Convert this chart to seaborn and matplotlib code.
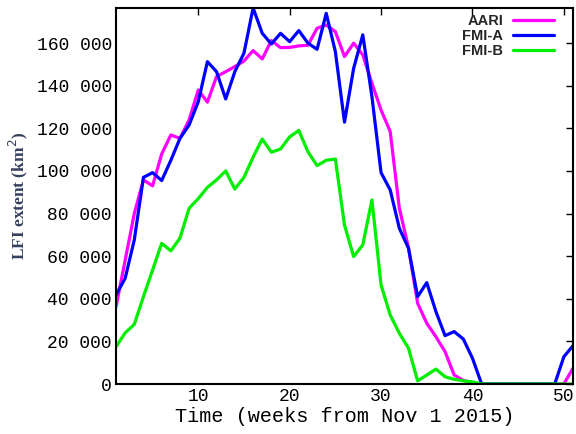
import numpy as np
import pandas as pd
import matplotlib
matplotlib.use("Agg")
import matplotlib.pyplot as plt
import matplotlib.ticker as mticker
import seaborn as sns

weeks = list(range(1, 52))
aari = [36300, 58000, 80000, 95800, 93000, 108000, 116900, 115300, 124000, 138000,
        132300, 144300, 146600, 149000, 151600, 156500, 152600, 161200, 157900, 158000,
        158700, 159000, 167000, 168500, 165400, 153700, 160000, 154500, 141200, 128600,
        118500, 82500, 64000, 37900, 28500, 22200, 15200, 4200, 1700, 500,
        0, 0, 0, 0, 0, 0, 0, 0, 0, 0, 7400]
fmi_a = [41800, 49600, 67600, 97000, 99200, 95500, 105000, 115300, 121600, 132500,
         151300, 146600, 133800, 146600, 155300, 176500, 164600, 159600, 164600, 160700,
         165900, 160000, 157100, 174000, 156000, 122900, 148200, 163900, 134900, 99200,
         91100, 73100, 63700, 41000, 47600, 34000, 22700, 24600, 21100, 12100,
         0, 0, 0, 0, 0, 0, 0, 0, 0, 12800, 18000]
fmi_b = [17500, 24000, 28000, 41000, 53500, 66000, 62500, 68500, 82500, 87000,
         92300, 95800, 100000, 91500, 97000, 106500, 115000, 108800, 110300, 116000,
         119000, 109000, 102500, 105000, 105600, 74600, 59800, 65300, 86400, 46500,
         32400, 23800, 16800, 1500, 4200, 7000, 3400, 2200, 1500, 1000,
         0, 0, 0, 0, 0, 0, 0, 0, 0, 0, 0]
series_names = ["AARI", "FMI-A", "FMI-B"]
colors = ["#ff00ff", "#0000ff", "#00ee00"]
xticks = [10, 20, 30, 40, 50]
yticks = [0, 20000, 40000, 60000, 80000, 100000, 120000, 140000, 160000]

df = pd.DataFrame({
    "week": weeks * 3,
    "value": aari + fmi_a + fmi_b,
    "series": sum([[n] * len(weeks) for n in series_names], []),
})

sns.set_theme(style="white")
plt.rcParams["font.family"] = ["Liberation Mono", "DejaVu Sans Mono"]

fig = plt.figure(figsize=(5.76, 4.34), dpi=100)
ax = fig.add_axes([0.2014, 0.1152, 0.7934, 0.8664])

sns.lineplot(data=df, x="week", y="value", hue="series", hue_order=series_names,
             palette=dict(zip(series_names, colors)), linewidth=2.3, ax=ax,
             legend=True)

ax.set_xlim(1, 51)
ax.set_ylim(0, 176500)
ax.set_xticks(xticks)
ax.set_yticks(yticks)
ax.yaxis.set_major_formatter(mticker.FuncFormatter(lambda v, p: f"{int(v):,}".replace(",", " ")))
ax.tick_params(direction="in", length=5, width=1, top=True, right=True,
               labelsize=13, colors="black", pad=3)
for s in ax.spines.values():
    s.set_visible(True)
    s.set_color("black")
    s.set_linewidth(1.5)

ax.set_xlabel("Time (weeks from Nov 1 2015)", fontsize=14.5, labelpad=1, color="black")
ax.set_ylabel("LFI extent (km$^2$)", fontsize=12.5, fontweight="bold",
              family="Liberation Serif", color="#34405e")
ax.yaxis.set_label_coords(-0.188, 0.5)

leg = ax.legend(loc="upper right", frameon=False, markerfirst=False,
                bbox_to_anchor=(0.958, 0.984),
                prop={"family": "Liberation Sans", "weight": "bold", "size": 10.5},
                handlelength=2.8, handletextpad=0.68, labelspacing=0.07,
                borderaxespad=0.0, borderpad=0.0)
for line in leg.get_lines():
    line.set_linewidth(2.3)

fig.savefig("out.png", dpi=100)
